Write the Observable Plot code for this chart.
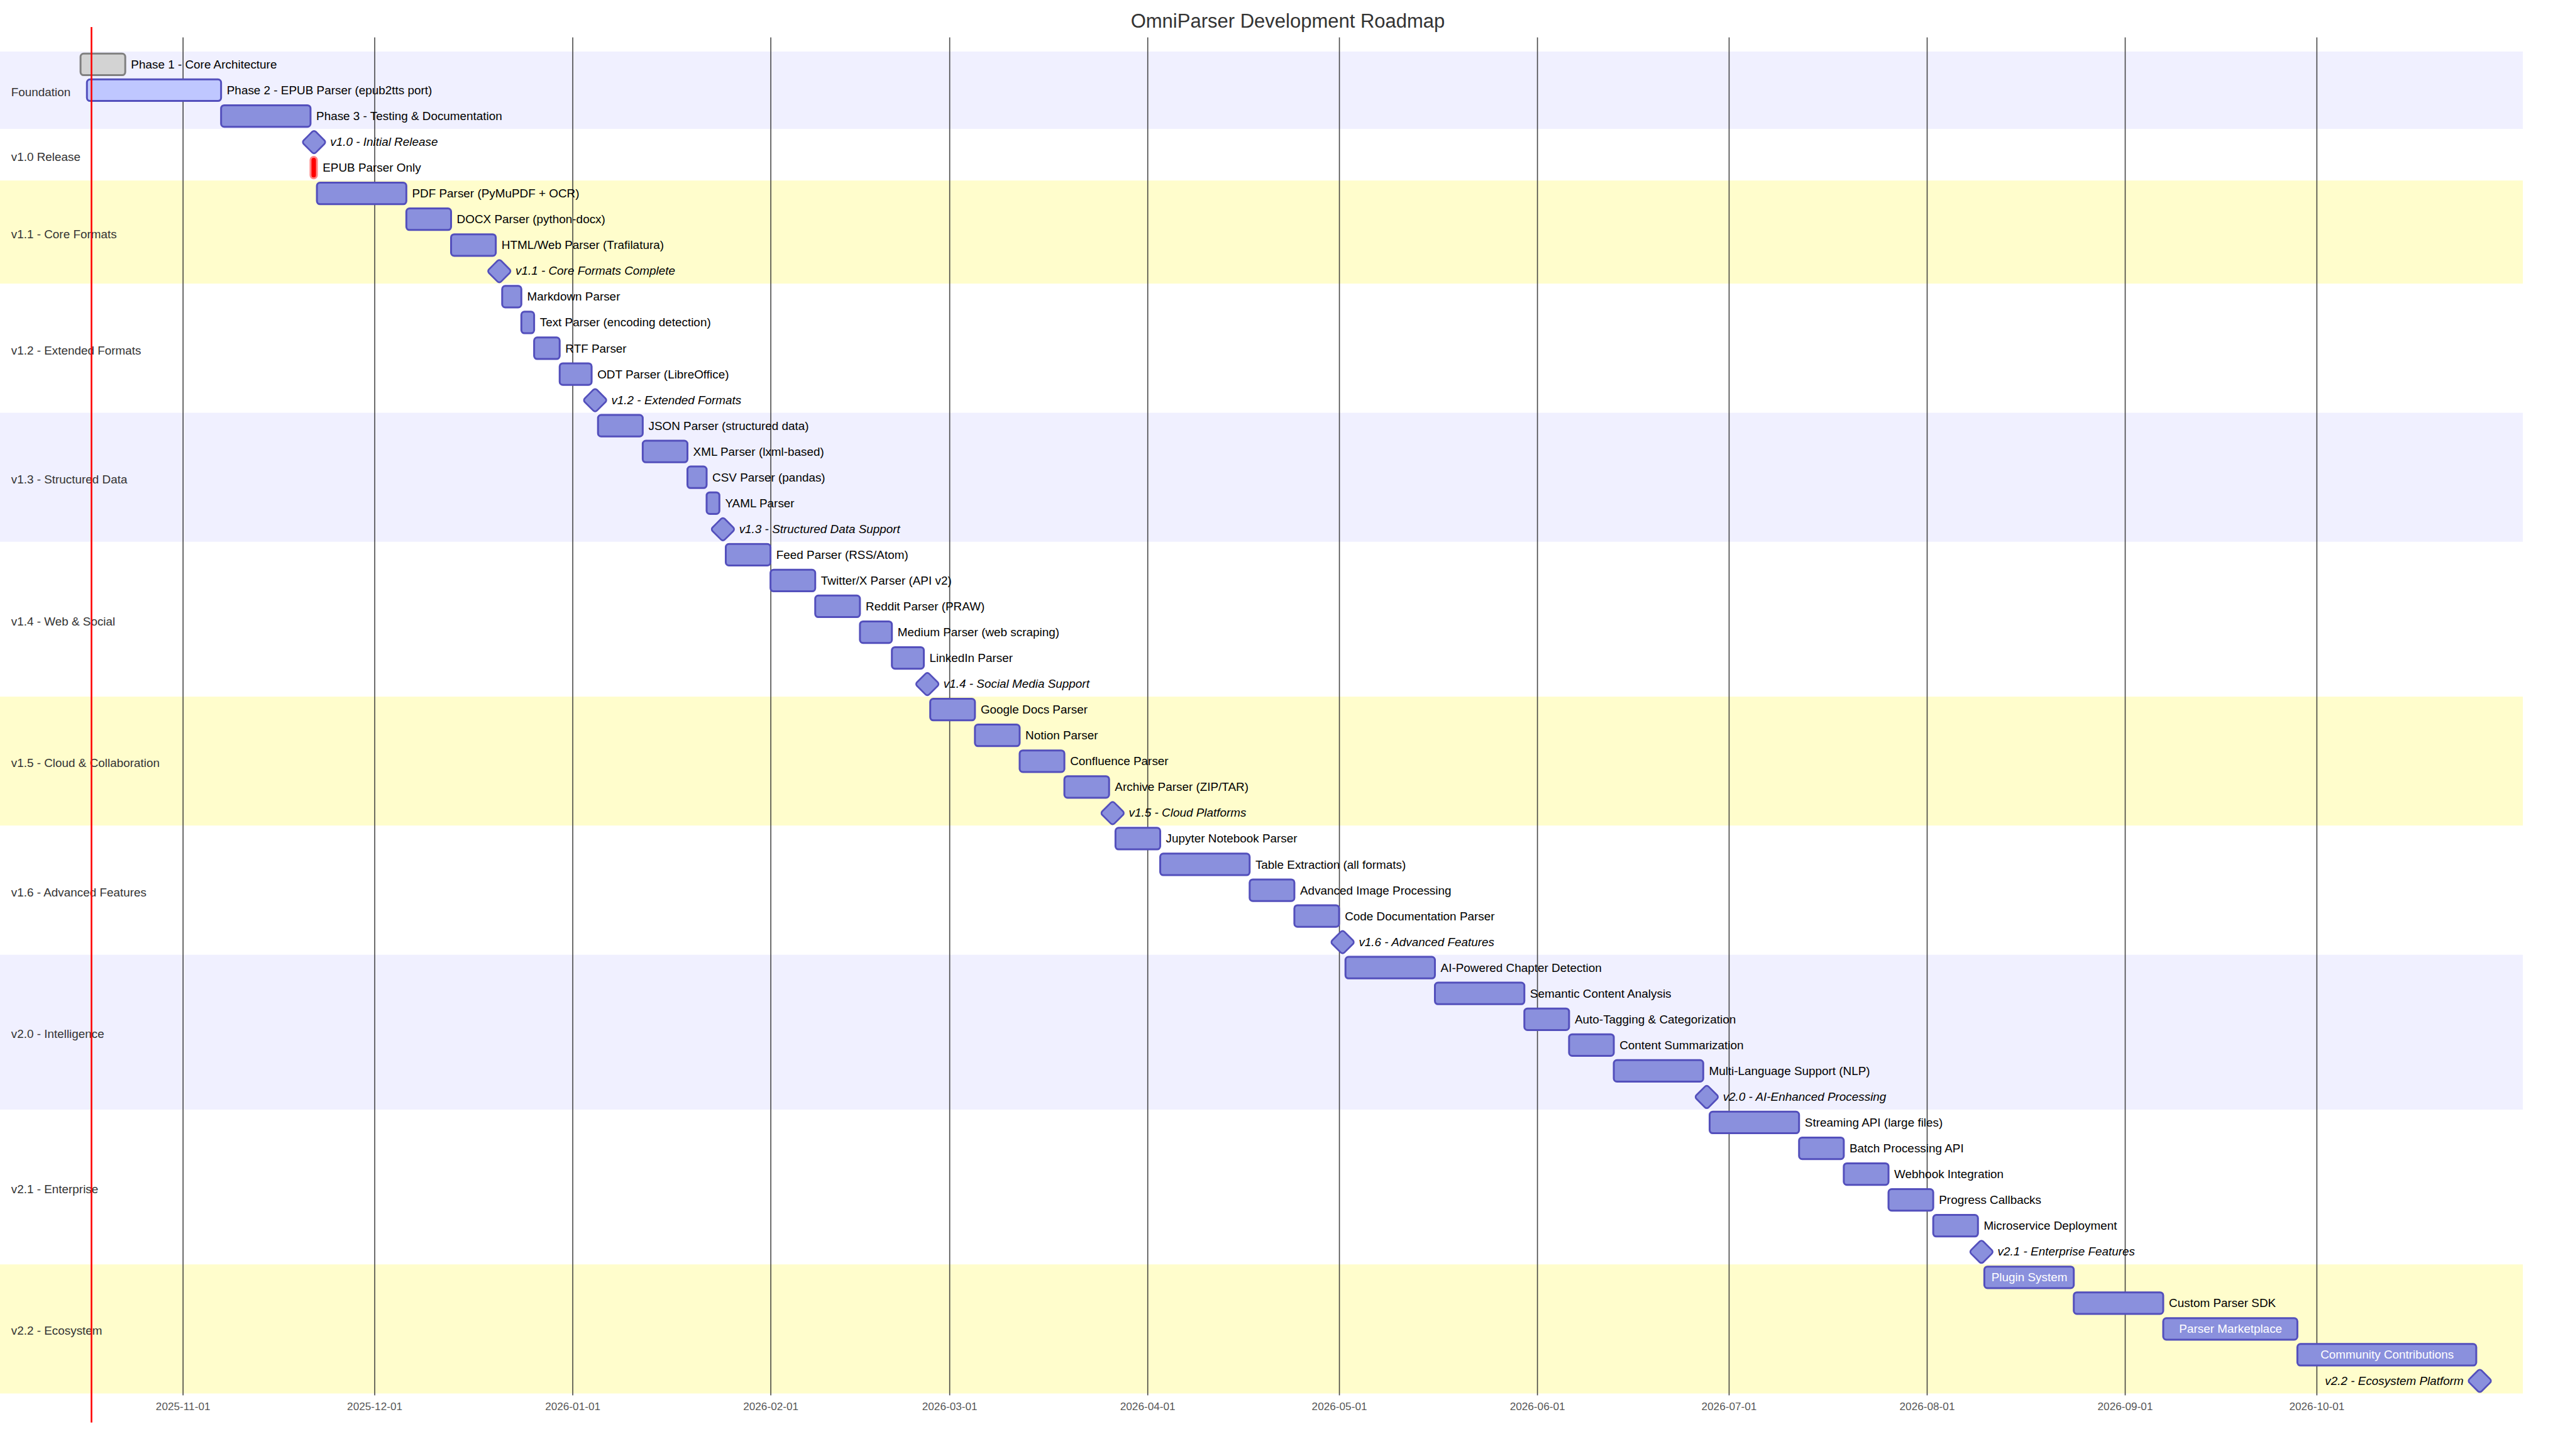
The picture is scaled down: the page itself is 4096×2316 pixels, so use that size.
<!DOCTYPE html>
<html>
<head>
<meta charset="utf-8">
<script src="https://cdn.jsdelivr.net/npm/d3@7"></script>
<script src="https://cdn.jsdelivr.net/npm/@observablehq/plot@0.6"></script>
<style>
  html, body { margin: 0; padding: 0; background: #fff; }
  #chart svg { display: block; }
</style>
</head>
<body>
<div id="chart"></div>
<script>
// ---------------- DATA ----------------
const chartTitle = "OmniParser Development Roadmap";

const sectionNames = [
  "Foundation", "v1.0 Release", "v1.1 - Core Formats", "v1.2 - Extended Formats",
  "v1.3 - Structured Data", "v1.4 - Web & Social", "v1.5 - Cloud & Collaboration",
  "v1.6 - Advanced Features", "v2.0 - Intelligence", "v2.1 - Enterprise", "v2.2 - Ecosystem"
];

const taskNames = [
  "Phase 1 - Core Architecture", "Phase 2 - EPUB Parser (epub2tts port)", "Phase 3 - Testing & Documentation",
  "v1.0 - Initial Release", "EPUB Parser Only",
  "PDF Parser (PyMuPDF + OCR)", "DOCX Parser (python-docx)", "HTML/Web Parser (Trafilatura)", "v1.1 - Core Formats Complete",
  "Markdown Parser", "Text Parser (encoding detection)", "RTF Parser", "ODT Parser (LibreOffice)", "v1.2 - Extended Formats",
  "JSON Parser (structured data)", "XML Parser (lxml-based)", "CSV Parser (pandas)", "YAML Parser", "v1.3 - Structured Data Support",
  "Feed Parser (RSS/Atom)", "Twitter/X Parser (API v2)", "Reddit Parser (PRAW)", "Medium Parser (web scraping)", "LinkedIn Parser", "v1.4 - Social Media Support",
  "Google Docs Parser", "Notion Parser", "Confluence Parser", "Archive Parser (ZIP/TAR)", "v1.5 - Cloud Platforms",
  "Jupyter Notebook Parser", "Table Extraction (all formats)", "Advanced Image Processing", "Code Documentation Parser", "v1.6 - Advanced Features",
  "AI-Powered Chapter Detection", "Semantic Content Analysis", "Auto-Tagging & Categorization", "Content Summarization", "Multi-Language Support (NLP)", "v2.0 - AI-Enhanced Processing",
  "Streaming API (large files)", "Batch Processing API", "Webhook Integration", "Progress Callbacks", "Microservice Deployment", "v2.1 - Enterprise Features",
  "Plugin System", "Custom Parser SDK", "Parser Marketplace", "Community Contributions", "v2.2 - Ecosystem Platform"
];

const taskSection = [
  0,0,0,
  1,1,
  2,2,2,2,
  3,3,3,3,3,
  4,4,4,4,4,
  5,5,5,5,5,5,
  6,6,6,6,6,
  7,7,7,7,7,
  8,8,8,8,8,8,
  9,9,9,9,9,9,
  10,10,10,10,10
];

const taskKind = [
  "done","active","task",
  "milestone","crit",
  "task","task","task","milestone",
  "task","task","task","task","milestone",
  "task","task","task","task","milestone",
  "task","task","task","task","task","milestone",
  "task","task","task","task","milestone",
  "task","task","task","task","milestone",
  "task","task","task","task","task","milestone",
  "task","task","task","task","task","milestone",
  "task","task","task","task","milestone"
];

const taskStart = [
  "2025-10-16","2025-10-17","2025-11-07",
  "2025-11-21","2025-11-21",
  "2025-11-22","2025-12-06","2025-12-13","2025-12-20",
  "2025-12-21","2025-12-24","2025-12-26","2025-12-30","2026-01-04",
  "2026-01-05","2026-01-12","2026-01-19","2026-01-22","2026-01-24",
  "2026-01-25","2026-02-01","2026-02-08","2026-02-15","2026-02-20","2026-02-25",
  "2026-02-26","2026-03-05","2026-03-12","2026-03-19","2026-03-26",
  "2026-03-27","2026-04-03","2026-04-17","2026-04-24","2026-05-01",
  "2026-05-02","2026-05-16","2026-05-30","2026-06-06","2026-06-13","2026-06-27",
  "2026-06-28","2026-07-12","2026-07-19","2026-07-26","2026-08-02","2026-08-09",
  "2026-08-10","2026-08-24","2026-09-07","2026-09-28","2026-10-26"
];

const taskEnd = [
  "2025-10-23","2025-11-07","2025-11-21",
  "2025-11-22","2025-11-22",
  "2025-12-06","2025-12-13","2025-12-20","2025-12-21",
  "2025-12-24","2025-12-26","2025-12-30","2026-01-04","2026-01-05",
  "2026-01-12","2026-01-19","2026-01-22","2026-01-24","2026-01-25",
  "2026-02-01","2026-02-08","2026-02-15","2026-02-20","2026-02-25","2026-02-26",
  "2026-03-05","2026-03-12","2026-03-19","2026-03-26","2026-03-27",
  "2026-04-03","2026-04-17","2026-04-24","2026-05-01","2026-05-02",
  "2026-05-16","2026-05-30","2026-06-06","2026-06-13","2026-06-27","2026-06-28",
  "2026-07-12","2026-07-19","2026-07-26","2026-08-02","2026-08-09","2026-08-10",
  "2026-08-24","2026-09-07","2026-09-28","2026-10-26","2026-10-27"
];

const tickDates = [
  "2025-11-01","2025-12-01","2026-01-01","2026-02-01","2026-03-01","2026-04-01",
  "2026-05-01","2026-06-01","2026-07-01","2026-08-01","2026-09-01","2026-10-01"
];

const todayMarker = "2025-10-17T16:00:00Z";
const timeDomain = ["2025-10-16", "2026-10-27"];

// ---------------- STYLE ----------------
const W = 4096, H = 2316;
const FONT = "Liberation Sans";
const FS = 18.9;
const X_RANGE = [128.1, 3949.1];
const Y_RANGE = [81.9, 2216.5];
const BAR_H = 34.3, PAD = 8.6, LEFT_PAD = 128.7;

const kindFill = {done: "#d3d3d3", active: "#bfc7ff", task: "#8a90dd", crit: "#ff0000", milestone: "#8a90dd"};
const kindStroke = {done: "#808080", active: "#534fbc", task: "#534fbc", crit: "#ff8888", milestone: "#534fbc"};
const bandFill = ["#f0f0ff", "#ffffff", "#fffdcc", "#ffffff"];

// ---------------- BUILD ----------------
const tasks = taskNames.map((name, i) => ({
  name, row: i, section: taskSection[i], kind: taskKind[i],
  start: new Date(taskStart[i]), end: new Date(taskEnd[i])
}));
tasks.forEach(t => { t.mid = new Date((+t.start + +t.end) / 2); });

const sections = sectionNames.map((name, s) => {
  const rows = tasks.filter(t => t.section === s).map(t => t.row);
  return {name, index: s, first: d3.min(rows), last: d3.max(rows)};
});

const xs = d3.scaleUtc().domain(timeDomain.map(d => new Date(d))).range(X_RANGE);
const ctx = document.createElement("canvas").getContext("2d");
function textWidth(s, italic) {
  ctx.font = `${italic ? "italic " : ""}${FS}px "${FONT}"`;
  return ctx.measureText(s).width;
}
tasks.forEach(t => {
  let sx = xs(t.start), ex = xs(t.end);
  if (t.kind === "milestone") { const c = (sx + ex) / 2; sx = c - BAR_H / 2; ex = c + BAR_H / 2; }
  const tw = textWidth(t.name, t.kind === "milestone");
  if (tw > ex - sx) t.place = (ex + tw + 1.5 * LEFT_PAD > W) ? "left" : "right";
  else t.place = "inside";
});

const roundedDiamond = {
  draw(context, size) {
    const h = Math.sqrt(size / Math.PI);
    const rr = h * 0.21;
    context.moveTo(-h / 2, -h / 2);
    context.arcTo(0, -h, h, 0, rr);
    context.arcTo(h, 0, 0, h, rr);
    context.arcTo(0, h, -h, 0, rr);
    context.arcTo(-h, 0, 0, -h, rr);
    context.closePath();
  }
};

const bars = tasks.filter(t => t.kind !== "milestone");
const milestones = tasks.filter(t => t.kind === "milestone");
const half = 10 / 24;

const textCommon = {y: "row", text: "name", fontSize: FS, lineAnchor: "middle"};

const chart = Plot.plot({
  width: W, height: H,
  marginLeft: 0, marginRight: 0, marginTop: 59.5, marginBottom: 96.6,
  x: {type: "utc", domain: timeDomain.map(d => new Date(d)), range: X_RANGE},
  y: {type: "linear", domain: [-0.5, tasks.length - 0.5], range: Y_RANGE, axis: null},
  color: {type: "identity"},
  style: {fontFamily: FONT, background: "#fff", overflow: "visible"},
  marks: [
    // section bands
    Plot.rect(sections, {
      y1: d => d.first - 0.5, y2: d => d.last + 0.5,
      fill: d => bandFill[d.index % 4], insetRight: 83
    }),
    // grid
    Plot.gridX(tickDates.map(d => new Date(d)), {stroke: "#333", strokeOpacity: 0.9, strokeWidth: 1.6}),
    // axis labels
    Plot.axisX(tickDates.map(d => new Date(d)), {
      anchor: "bottom", tickSize: 0, tickPadding: 11, fontSize: 17.2,
      tickFormat: d3.utcFormat("%Y-%m-%d"), fill: "#333", fillOpacity: 0.85, label: null
    }),
    // section labels
    Plot.text(sections, {
      y: d => (d.first + d.last) / 2, text: "name", frameAnchor: "left", dx: 17.2, dy: 3,
      textAnchor: "start", fontSize: FS, fill: "#333"
    }),
    // task bars
    Plot.rect(bars, {
      x1: "start", x2: "end", y1: d => d.row - half, y2: d => d.row + half,
      fill: d => kindFill[d.kind], stroke: d => kindStroke[d.kind], strokeWidth: 3, rx: 5
    }),
    // milestones
    Plot.dot(milestones, {
      x: "mid", y: "row", r: 19.4, symbol: roundedDiamond,
      fill: d => kindFill[d.kind], stroke: d => kindStroke[d.kind], strokeWidth: 2.7
    }),
    // labels: outside right tasks
    Plot.text(bars.filter(t => t.place === "right"), {...textCommon, x: "end", dx: PAD, textAnchor: "start", fill: "#000"}),
    // labels: outside left tasks
    Plot.text(bars.filter(t => t.place === "left"), {...textCommon, x: "start", dx: -PAD, textAnchor: "end", fill: "#000"}),
    // labels: inside tasks
    Plot.text(bars.filter(t => t.place === "inside"), {...textCommon, x: "mid", textAnchor: "middle", fill: "#fff"}),
    // milestone labels right
    Plot.text(milestones.filter(t => t.place === "right"), {...textCommon, x: "mid", dx: PAD + BAR_H / 2, textAnchor: "start", fill: "#000", fontStyle: "italic"}),
    // milestone labels left
    Plot.text(milestones.filter(t => t.place === "left"), {...textCommon, x: "mid", dx: -(PAD + BAR_H / 2), textAnchor: "end", fill: "#000", fontStyle: "italic"}),
    // today marker
    Plot.ruleX([new Date(todayMarker)], {stroke: "red", strokeWidth: 2.6, insetTop: -16.6, insetBottom: -43.4}),
    // title
    Plot.text([chartTitle], {frameAnchor: "top", dy: -16, lineAnchor: "bottom", fontSize: 31, fill: "#333"})
  ]
});

document.getElementById("chart").appendChild(chart);
</script>
</body>
</html>
